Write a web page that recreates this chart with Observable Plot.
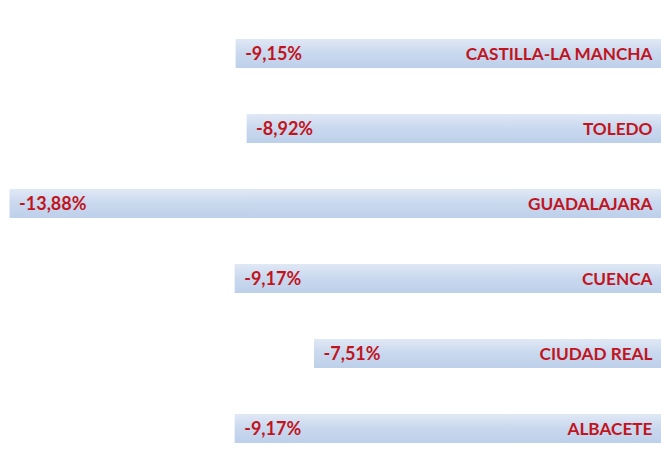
<!DOCTYPE html>
<html>
<head>
<meta charset="utf-8">
<script src="https://cdn.jsdelivr.net/npm/d3@7"></script>
<script src="https://cdn.jsdelivr.net/npm/@observablehq/plot@0.6"></script>
<style>
  html, body { margin: 0; padding: 0; background: #fff; overflow: hidden; }
  #chart svg { display: block; }
</style>
</head>
<body>
<div id="chart"></div>
<script>
const regions = ["CASTILLA-LA MANCHA", "TOLEDO", "GUADALAJARA", "CUENCA", "CIUDAD REAL", "ALBACETE"];
const changes = [-9.15, -8.92, -13.88, -9.17, -7.51, -9.17];

const data = regions.map((r, i) => ({region: r, value: changes[i]}));
const fmt = v => v.toFixed(2).replace(".", ",") + "%";
const red = "#c0141e";
const font = "Lato, 'Open Sans', sans-serif";

const svg = Plot.plot({
  width: 661,
  height: 457,
  margin: 0,
  x: {domain: [-14.08, -0.25], range: [0, 661], axis: null},
  y: {domain: regions, range: [16, 466], paddingInner: 0.613, paddingOuter: 0.3065, axis: null},
  style: {fontFamily: font, background: "#fff"},
  marks: [
    Plot.barX(data, {x1: "value", x2: 0, y: "region", fill: "url(#barGrad)", clip: true}),
    Plot.text(data, {x: "value", y: "region", text: d => fmt(d.value), textAnchor: "start", dx: 9,
      fill: red, fontWeight: "bold", fontSize: 18}),
    Plot.text(data, {y: "region", text: "region", frameAnchor: "right", textAnchor: "end", dx: -9,
      fill: red, fontWeight: "bold", fontSize: 17.2})
  ]
});

const defs = d3.select(svg).insert("defs", ":first-child");
const g = defs.append("linearGradient").attr("id", "barGrad").attr("x1", 0).attr("y1", 0).attr("x2", 0).attr("y2", 1);
g.append("stop").attr("offset", "0%").attr("stop-color", "#e0e8f5");
g.append("stop").attr("offset", "50%").attr("stop-color", "#c9d8ee");
g.append("stop").attr("offset", "100%").attr("stop-color", "#bdd0ea");

document.getElementById("chart").appendChild(svg);
</script>
</body>
</html>
